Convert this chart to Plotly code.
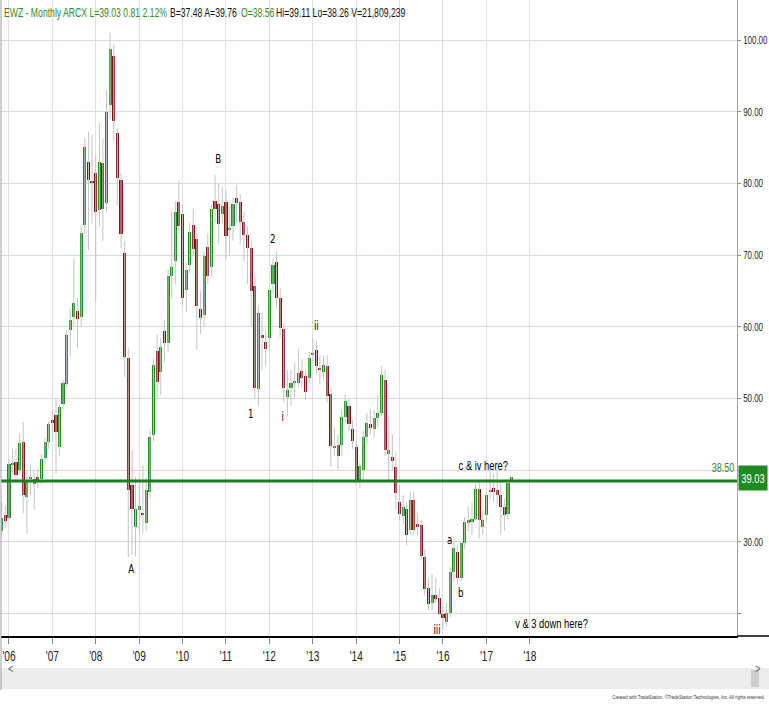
import pandas as pd
import plotly.graph_objects as go

# ---------------- data (monthly EWZ, Nov 2005 .. Aug 2017) ----------------
first_month = "2005-11-01"
opens = [31.5, 33.8,
 33.3, 40.8, 41.2, 40.0, 44.0, 36.3, 38.9, 38.1, 39.0, 38.8, 41.7, 43.9,
 47.0, 47.7, 43.2, 49.3, 52.0, 59.5, 61.4, 62.2, 61.4, 74.2, 83.0, 80.3,
 81.5, 76.3, 82.8, 77.3, 90.9, 97.8, 87.0, 80.5, 70.3, 55.7, 38.0, 32.1,
 34.5, 33.9, 32.6, 37.0, 44.9, 56.6, 53.7, 59.4, 57.8, 67.1, 69.2, 77.4,
 75.8, 65.1, 68.6, 74.2, 72.2, 62.5, 61.7, 71.2, 68.4, 77.5, 77.1, 75.7,
 77.4, 73.5, 74.0, 77.9, 77.4, 74.6, 72.8, 71.0, 65.7, 51.3, 58.8, 57.9,
 58.5, 66.0, 69.1, 64.0, 59.7, 50.2, 51.5, 52.2, 52.1, 53.8, 53.2, 52.8,
 56.2, 56.7, 54.2, 53.7, 54.6, 50.7, 43.2, 43.5, 43.5, 47.4, 49.0, 45.7,
 43.3, 38.7, 40.0, 44.7, 46.4, 45.8, 47.3, 48.0, 52.6, 42.2, 41.9, 40.5,
 35.6, 33.6, 34.6, 31.6, 35.8, 32.5, 32.3, 27.9, 23.6, 21.5, 22.6, 22.2,
 20.0, 18.8, 20.1, 25.8, 28.6, 24.9, 29.8, 32.6, 32.8, 33.2, 37.4, 32.1,
 33.7, 36.9, 37.5, 37.3, 36.6, 34.9, 33.9, 38.56]
highs = [35.5, 35.0,
 41.5, 43.0, 43.0, 45.0, 46.7, 40.0, 40.5, 40.0, 40.2, 42.2, 44.5, 46.8,
 48.5, 50.0, 49.2, 52.6, 59.5, 62.5, 69.5, 64.0, 74.0, 86.3, 87.2, 86.8,
 84.0, 88.4, 86.2, 93.0, 101.0, 99.5, 87.7, 81.5, 72.0, 57.0, 42.8, 39.1,
 39.0, 40.7, 39.0, 45.5, 55.5, 59.0, 58.5, 61.0, 68.0, 76.0, 77.5, 80.5,
 77.0, 69.0, 74.5, 76.5, 73.0, 65.0, 70.5, 73.0, 77.0, 81.2, 80.0, 79.5,
 79.0, 77.0, 78.0, 79.8, 78.5, 76.0, 74.0, 72.0, 67.0, 63.0, 62.0, 59.5,
 65.5, 69.5, 70.5, 65.5, 60.5, 54.0, 54.0, 55.0, 57.0, 55.5, 54.0, 56.5,
 58.5, 58.0, 56.0, 56.0, 56.0, 51.5, 46.0, 45.0, 48.5, 50.5, 50.0, 47.0,
 44.0, 41.0, 45.5, 48.0, 48.5, 48.5, 50.5, 54.5, 54.0, 47.5, 45.0, 42.5,
 38.0, 36.5, 35.5, 37.0, 37.0, 34.0, 33.0, 29.0, 25.0, 25.5, 25.0, 23.5,
 21.0, 21.5, 26.5, 30.0, 29.5, 30.0, 33.5, 35.0, 35.5, 38.0, 38.5, 34.5,
 37.0, 40.2, 39.5, 40.0, 38.5, 36.0, 38.5, 39.11]
lows = [30.8, 32.0,
 33.0, 39.5, 38.5, 39.5, 34.0, 31.2, 36.5, 34.5, 37.5, 38.0, 41.0, 43.0,
 44.0, 39.5, 42.0, 48.5, 51.5, 56.0, 60.0, 57.0, 60.0, 73.0, 70.7, 74.4,
 63.5, 74.0, 72.0, 76.0, 89.0, 86.0, 77.0, 71.0, 53.0, 27.9, 28.2, 28.0,
 31.0, 31.2, 31.5, 36.0, 44.0, 50.0, 50.5, 55.0, 56.5, 64.0, 66.0, 73.0,
 63.0, 62.0, 67.5, 70.0, 56.8, 59.0, 60.0, 66.0, 67.0, 74.5, 71.5, 74.5,
 69.5, 70.0, 72.0, 74.5, 71.5, 69.0, 66.0, 60.0, 50.0, 49.0, 54.0, 54.5,
 57.0, 64.5, 62.5, 58.5, 49.5, 47.5, 49.0, 50.0, 51.5, 51.5, 49.8, 52.0,
 55.0, 53.5, 52.0, 52.5, 49.5, 40.5, 42.0, 40.0, 42.0, 46.5, 45.5, 43.0,
 38.0, 37.5, 38.5, 43.5, 45.0, 44.5, 46.0, 47.5, 42.0, 38.5, 40.0, 34.5,
 33.0, 32.5, 29.5, 31.0, 31.0, 31.0, 27.5, 22.5, 20.5, 20.5, 21.5, 19.8,
 17.8, 18.2, 19.5, 24.5, 24.0, 24.5, 29.0, 31.5, 31.0, 33.0, 30.5, 31.0,
 33.0, 36.0, 35.5, 35.0, 31.0, 31.5, 33.0, 38.26]
closes = [33.4, 32.9,
 40.9, 41.0, 39.4, 43.8, 36.5, 38.6, 39.1, 38.8, 38.3, 41.6, 43.9, 46.5,
 46.6, 45.3, 48.8, 52.1, 58.9, 61.0, 63.3, 61.1, 73.1, 85.1, 80.5, 80.1,
 76.0, 83.0, 76.5, 89.9, 98.8, 88.7, 80.7, 73.0, 55.8, 37.2, 34.6, 34.6,
 35.0, 33.8, 37.3, 44.6, 54.7, 52.3, 57.2, 57.7, 67.1, 68.4, 76.0, 74.0,
 64.0, 67.9, 73.2, 70.9, 62.9, 61.3, 69.9, 67.1, 76.5, 76.5, 74.4, 76.9,
 72.7, 73.8, 77.1, 77.2, 74.6, 72.8, 71.0, 65.0, 51.5, 61.9, 58.5, 56.9,
 65.1, 68.6, 64.0, 59.8, 51.5, 51.2, 52.1, 52.4, 53.6, 52.8, 50.9, 55.6,
 56.4, 54.6, 54.1, 54.7, 50.4, 43.4, 43.3, 42.0, 47.4, 49.6, 46.4, 44.1,
 38.7, 40.6, 44.6, 46.6, 45.9, 47.3, 48.0, 53.3, 42.8, 42.8, 41.3, 36.8,
 33.9, 34.9, 30.9, 35.8, 31.6, 32.1, 28.0, 23.5, 21.4, 22.6, 22.1, 20.0,
 19.4, 20.1, 25.8, 29.1, 24.9, 29.8, 32.8, 33.0, 33.2, 37.4, 33.1, 33.0,
 36.5, 37.3, 37.0, 36.6, 34.9, 33.7, 38.2, 39.03]

support_level = 38.50
last_price = 39.03
year_ticks = ["2006", "2007", "2008", "2009", "2010", "2011", "2012",
              "2013", "2014", "2015", "2016", "2017", "2018"]
year_labels = ["'06", "'07", "'08", "'09", "'10", "'11", "'12",
               "'13", "'14", "'15", "'16", "'17", "'18"]
price_ticks = [20, 30, 40, 50, 60, 70, 80, 90, 100]
price_labels = ["", "30.00", "40.00", "50.00", "60.00", "70.00", "80.00", "90.00", "100.00"]

# wave labels: (text, date, price)
wave_labels = [
    ("A", "2008-11-01", 26.2), ("B", "2010-10-26", 83.4),
    ("1", "2011-08-01", 47.9), ("2", "2012-01-30", 72.3),
    ("i", "2012-04-23", 47.4), ("ii", "2013-01-28", 60.1),
    ("iii", "2015-11-13", 17.7), ("a", "2016-02-29", 30.2),
    ("b", "2016-05-30", 22.9), ("c & iv here?", "2016-12-06", 40.7),
    ("v & 3 down here?", "2018-07-05", 18.6),
]

# header segments: (text, colour, left pixel)
header_parts = [
    ("EWZ - Monthly ARCX L=39.03 0.81 2.12%", "#2e8b2e", 2),
    ("B=37.48 A=39.76", "#111111", 168),
    ("O=38.56", "#2e8b2e", 239),
    ("Hi=39.11 Lo=38.26 V=21,809,239", "#111111", 274),
]

# ---------------- figure ----------------
dates = pd.date_range(first_month, periods=len(opens), freq="MS")
UP, DOWN, WICK = "#1f8a1f", "#7d1515", "#c4c4c4"
FONT = "Liberation Sans, Arial, sans-serif"
FONT_SHORT = "DejaVu Sans, sans-serif"

wx, wy = [], []
for d, h, l in zip(dates, highs, lows):
    wx += [d, d, None]
    wy += [l, h, None]

base = [min(o, c) for o, c in zip(opens, closes)]
height = [max(abs(c - o), 0.18) for o, c in zip(opens, closes)]
colors = [UP if c >= o else DOWN for o, c in zip(opens, closes)]

fig = go.Figure()
fig.add_trace(go.Scatter(x=wx, y=wy, mode="lines", line=dict(color=WICK, width=1),
                         hoverinfo="skip", showlegend=False))
fig.add_trace(go.Bar(x=dates, y=height, base=base, width=26 * 86400000,
                     marker=dict(color=colors, line=dict(width=0)), showlegend=False))

W, H = 769, 704
ML, MR, MT, MB = 1, 32, 0, 68
pw, ph = W - ML - MR, H - MT - MB

def px_x(px):
    return (px - ML) / pw

def px_y(py):
    return (H - MB - py) / ph

shapes = [
    dict(type="line", xref="paper", yref="y", x0=0, x1=1, y0=support_level, y1=support_level,
         line=dict(color="#1e7b1e", width=3)),
    dict(type="line", xref="paper", yref="paper", x0=0, x1=0, y0=px_y(690), y1=1,
         line=dict(color="#a0a0a0", width=1)),
    dict(type="line", xref="paper", yref="paper", x0=1, x1=px_x(W), y0=0, y1=0,
         line=dict(color="#000", width=1.5)),
    dict(type="rect", xref="paper", yref="paper", x0=px_x(0), x1=px_x(W), y0=px_y(689), y1=px_y(668),
         line=dict(width=0), fillcolor="#ececec", layer="below"),
    dict(type="rect", xref="paper", yref="paper", x0=px_x(751), x1=px_x(759), y0=px_y(687), y1=px_y(670),
         line=dict(width=0), fillcolor="#cdcdcd"),
]

annotations = []
for t, c, left in header_parts:
    annotations.append(dict(text=t, xref="paper", yref="paper", x=px_x(left), y=px_y(13),
                            xanchor="left", yanchor="middle", align="left", showarrow=False,
                            font=dict(family=FONT, size=12, color=c)))
annotations += [
    dict(text="38.50", xref="paper", yref="y", x=1, y=support_level, xanchor="right", yanchor="middle",
         align="right", xshift=-1, yshift=13, showarrow=False,
         font=dict(family=FONT, size=12.5, color="#2e8b2e")),
    dict(text=f"{last_price:.2f}", xref="paper", yref="paper", x=px_x(738), y=px_y(478),
         xanchor="left", yanchor="middle", showarrow=False, bgcolor="#1f8a1f",
         width=28, height=24, borderpad=0,
         font=dict(family=FONT, size=13, color="#ffffff")),
    dict(text="&lt;", xref="paper", yref="paper", x=px_x(5), y=px_y(678), showarrow=False,
         font=dict(family=FONT, size=13, color="#666")),
    dict(text="&gt;", xref="paper", yref="paper", x=px_x(764), y=px_y(678), showarrow=False,
         font=dict(family=FONT, size=13, color="#666")),
    dict(text="Created with TradeStation. ©TradeStation Technologies, Inc. All rights reserved.",
         xref="paper", yref="paper", x=px_x(767), y=px_y(697), xanchor="right", yanchor="middle",
         align="right", showarrow=False, font=dict(family=FONT, size=6, color="#333")),
]
for t, d, p in wave_labels:
    fam = FONT_SHORT if len(t) <= 3 else FONT
    size = 12 if len(t) <= 3 else 13
    annotations.append(dict(text=t, x=d, y=p, xref="x", yref="y", showarrow=False,
                            font=dict(family=fam, size=size, color="#000")))

fig.update_layout(
    width=W, height=H, margin=dict(l=ML, r=MR, t=MT, b=MB, autoexpand=False),
    paper_bgcolor="white", plot_bgcolor="white", bargap=0,
    shapes=shapes, annotations=annotations, showlegend=False,
    xaxis=dict(type="date", range=["2005-10-26", "2022-10-10"], tickvals=year_ticks,
               ticktext=year_labels, ticks="outside", ticklen=6, tickcolor="#888",
               showgrid=True, gridcolor="#e0e0e0", gridwidth=1, showline=True,
               linecolor="#000", linewidth=1.5, zeroline=False, rangeslider=dict(visible=False),
               ticklabeloverflow="allow",
               tickfont=dict(family=FONT, size=14, color="#222"), automargin=False),
    yaxis=dict(side="right", range=[16.88, 105.58], tickvals=price_ticks, ticktext=price_labels,
               ticks="outside", ticklen=3, tickcolor="#888", showgrid=True, gridcolor="#cfe0cf",
               gridwidth=1, showline=True, linecolor="#a0a0a0", linewidth=1, zeroline=False,
               ticklabeloverflow="allow",
               tickfont=dict(family=FONT, size=11, color="#222"), automargin=False),
)

# narrow (condensed) rendering of all texts, like the original terminal font
post = """
document.body.style.margin='0';
document.body.style.overflow='hidden';
var gd = document.getElementById('{plot_id}');
gd.querySelectorAll('text').forEach(function(t){
  var L = t.getComputedTextLength();
  if (L > 0) {
    t.setAttribute('textLength', (L*0.72).toFixed(2));
    t.setAttribute('lengthAdjust', 'spacingAndGlyphs');
  }
});
"""
fig.write_html("out.html", post_script=post, config={"displayModeBar": False})
